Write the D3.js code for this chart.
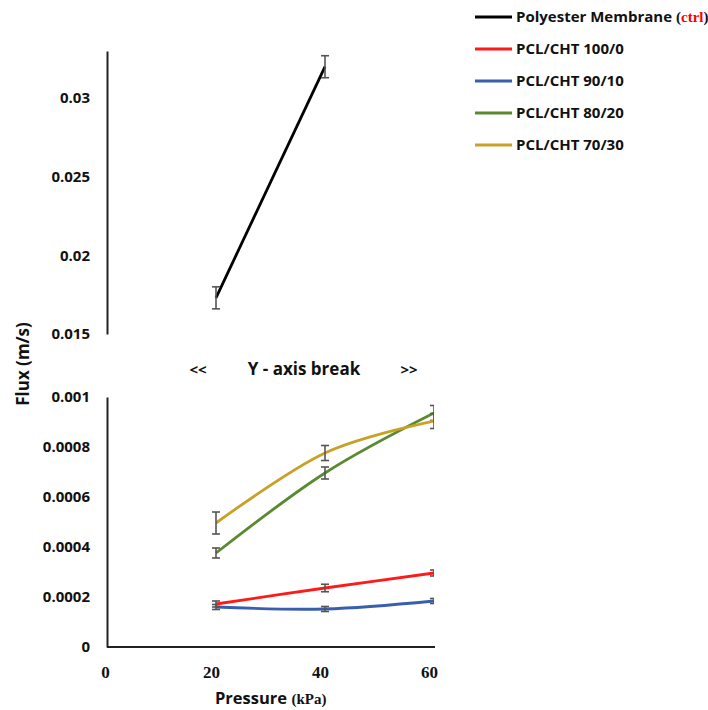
<!DOCTYPE html>
<html>
<head>
<meta charset="utf-8">
<script src="https://cdn.jsdelivr.net/npm/d3@7"></script>
<style>
  body { margin: 0; background: #fff; }
  text { font-family: "Open Sans", Lato, sans-serif; font-weight: bold; fill: #111; }
  .serif { font-family: "Liberation Serif", "DejaVu Serif", serif; }
</style>
</head>
<body>
<svg id="svg1" width="708" height="710"></svg>
<script>
// data
var pressure = [20, 40, 60];
var ctrlPressure = [20, 40];
var ctrlFlux = [0.0173, 0.0320];
var ctrlErr = [0.0007, 0.0007];

var flux100 = [0.000172, 0.000236, 0.000296];
var err100 = [0.000012, 0.000015, 0.000012];
var flux90 = [0.000160, 0.000152, 0.000184];
var err90 = [0.000010, 0.000010, 0.000010];
var flux80 = [0.000376, 0.000696, 0.000936];
var err80 = [0.000020, 0.000024, 0.000030];
var flux70 = [0.000496, 0.000776, 0.000904];
var err70 = [0.000044, 0.000030, 0.000030];

var xTicks = [0, 20, 40, 60];
var topTicks = [0.015, 0.02, 0.025, 0.03];
var bottomTicks = [0, 0.0002, 0.0004, 0.0006, 0.0008, 0.001];

var legendNames = ["Polyester Membrane", "PCL/CHT 100/0", "PCL/CHT 90/10", "PCL/CHT 80/20", "PCL/CHT 70/30"];
var colors = ["#000000", "#ff1a1a", "#3a5eae", "#5a8a2f", "#c9a128"];

var svg = d3.select("#svg1");

var x = d3.scaleLinear().domain([0, 60]).range([107, 434]);
var yTop = d3.scaleLinear().domain([0.015, 0.033]).range([334, 51]);
var yBot = d3.scaleLinear().domain([0, 0.001]).range([647, 397]);

// clip for the plot area (error bars at 60 get cut in half)
svg.append("clipPath").attr("id", "clipTop")
  .append("rect").attr("x", 107).attr("y", 40).attr("width", 327).attr("height", 300);
svg.append("clipPath").attr("id", "clipBot")
  .append("rect").attr("x", 107).attr("y", 390).attr("width", 327).attr("height", 260);

// axes
var fmt = function (d) { return d3.format("")(+d.toPrecision(3)); };

var topAxis = svg.append("g").attr("transform", "translate(107,0)")
  .call(d3.axisLeft(yTop).tickValues(topTicks).tickSize(0).tickPadding(17).tickFormat(fmt));
var botAxis = svg.append("g").attr("transform", "translate(107,0)")
  .call(d3.axisLeft(yBot).tickValues(bottomTicks).tickSize(0).tickPadding(17).tickFormat(fmt));
var xAxis = svg.append("g").attr("transform", "translate(0,647)")
  .call(d3.axisBottom(x).tickValues(xTicks).tickSize(0).tickPadding(19).tickFormat(d3.format("d")));

[topAxis, botAxis, xAxis].forEach(function (g) {
  g.select(".domain").attr("stroke", "#222").attr("stroke-width", 2);
  g.selectAll("text").style("font-size", "15px").attr("fill", "#111");
});
xAxis.select(".domain").attr("d", "M107,0H435");
xAxis.selectAll("text").attr("class", "serif").style("font-size", "17px")
  .attr("dx", function (d) { return d === 0 ? -2 : -5; });

// series drawing
var drawSeries = function (g, yScale, xs, ys, errs, color, curve) {
  var pts = xs.map(function (d, i) { return { x: d, y: ys[i], e: errs[i] }; });
  var line = d3.line().x(function (d) { return x(d.x); }).y(function (d) { return yScale(d.y); }).curve(curve);
  g.append("path").datum(pts).attr("d", line)
    .attr("fill", "none").attr("stroke", color).attr("stroke-width", 2.8);
  var eb = g.append("g").attr("stroke", "#555").attr("stroke-width", 1.6);
  pts.forEach(function (d) {
    var cx = x(d.x), y1 = yScale(d.y - d.e), y2 = yScale(d.y + d.e);
    eb.append("line").attr("x1", cx).attr("x2", cx).attr("y1", y1).attr("y2", y2);
    eb.append("line").attr("x1", cx - 4).attr("x2", cx + 4).attr("y1", y1).attr("y2", y1);
    eb.append("line").attr("x1", cx - 4).attr("x2", cx + 4).attr("y1", y2).attr("y2", y2);
  });
};

var gTop = svg.append("g").attr("clip-path", "url(#clipTop)");
drawSeries(gTop, yTop, ctrlPressure, ctrlFlux, ctrlErr, colors[0], d3.curveLinear);

var gBot = svg.append("g").attr("clip-path", "url(#clipBot)");
drawSeries(gBot, yBot, pressure, flux90, err90, colors[2], d3.curveCatmullRom.alpha(0));
drawSeries(gBot, yBot, pressure, flux100, err100, colors[1], d3.curveCatmullRom.alpha(0));
drawSeries(gBot, yBot, pressure, flux80, err80, colors[3], d3.curveCatmullRom.alpha(0));
drawSeries(gBot, yBot, pressure, flux70, err70, colors[4], d3.curveCatmullRom.alpha(0));

// axis break note
svg.append("text").attr("x", 198).attr("y", 375).attr("text-anchor", "middle").style("font-size", "15px").text("<<");
svg.append("text").attr("x", 304).attr("y", 375).attr("text-anchor", "middle").style("font-size", "17px").text("Y - axis break");
svg.append("text").attr("x", 409).attr("y", 375).attr("text-anchor", "middle").style("font-size", "15px").text(">>");

// axis titles
svg.append("text").attr("transform", "translate(29,364) rotate(-90)").attr("text-anchor", "middle")
  .style("font-size", "17px").text("Flux (m/s)");
var xt = svg.append("text").attr("x", 215).attr("y", 704).style("font-size", "16.5px");
xt.append("tspan").text("Pressure ");
xt.append("tspan").attr("class", "serif").style("font-size", "15px").text("(kPa)");

// legend
var leg = svg.append("g");
legendNames.forEach(function (name, i) {
  var ly = 17 + i * 32;
  leg.append("line").attr("x1", 475).attr("x2", 512).attr("y1", ly).attr("y2", ly)
    .attr("stroke", colors[i]).attr("stroke-width", 2.8);
  var t = leg.append("text").attr("x", 516).attr("y", ly + 5).style("font-size", "15px").text(name);
  if (i === 0) {
    var s = t.append("tspan").attr("class", "serif").style("font-size", "15px").attr("dx", 4);
    s.append("tspan").text("(");
    s.append("tspan").attr("fill", "#ff0000").style("fill", "#ff0000").text("ctrl");
    s.append("tspan").text(")");
  }
});
</script>
</body>
</html>
